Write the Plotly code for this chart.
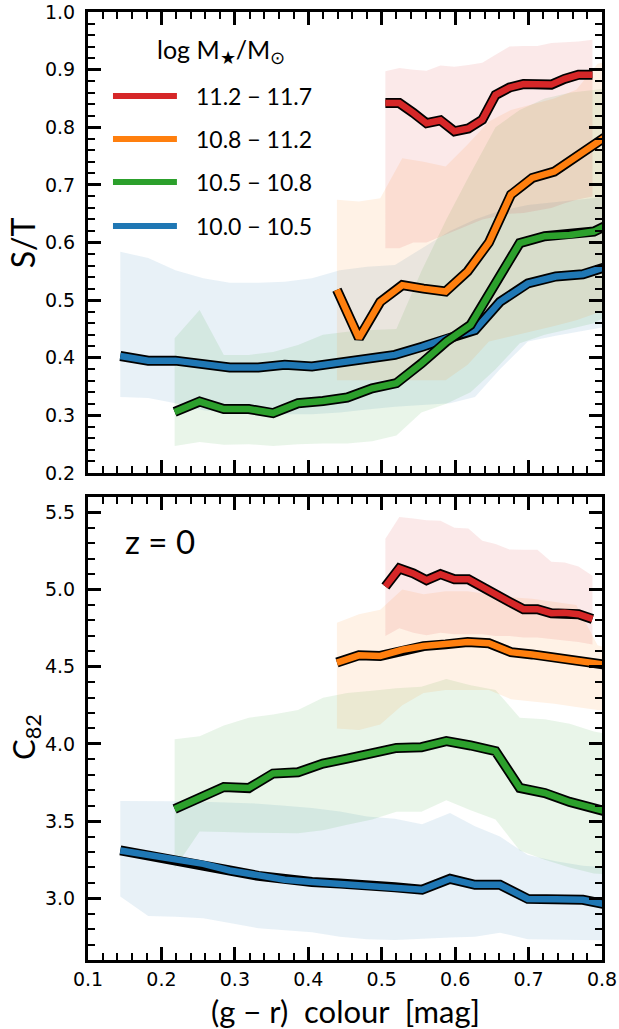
import plotly.graph_objects as go

# ---------------------------------------------------------------------------
# Median relations (lines) and 16th-84th percentile ranges (shaded bands)
# as a function of (g - r) colour, for four stellar-mass bins.
# ---------------------------------------------------------------------------

# colour-bin centres for each mass bin
X_BLUE = [0.144, 0.182, 0.219, 0.257, 0.293, 0.332, 0.368, 0.405, 0.443, 0.480,
          0.518, 0.555, 0.593, 0.627, 0.661, 0.699, 0.737, 0.774, 0.811]
X_GREEN = [0.218, 0.252, 0.285, 0.319, 0.352, 0.386, 0.420, 0.453, 0.487, 0.520,
           0.554, 0.588, 0.621, 0.655, 0.688, 0.722, 0.756, 0.789, 0.823]
X_ORANGE = [0.439, 0.469, 0.498, 0.528, 0.557, 0.587, 0.617, 0.646, 0.676, 0.705,
            0.735, 0.765, 0.794, 0.824]
X_RED = [0.505, 0.524, 0.543, 0.561, 0.580, 0.599, 0.618, 0.637, 0.655, 0.674,
         0.693, 0.712, 0.731, 0.749, 0.768, 0.787]

# S/T: spheroid-to-total ratio
ST_BLUE = [0.403, 0.395, 0.395, 0.388, 0.383, 0.383, 0.388, 0.385, 0.392, 0.399,
           0.405, 0.419, 0.436, 0.448, 0.497, 0.529, 0.541, 0.545, 0.560]
ST_BLUE_LO = [0.332, 0.330, 0.321, 0.309, 0.305, 0.302, 0.302, 0.302, 0.305, 0.310,
              0.315, 0.318, 0.321, 0.332, 0.380, 0.428, 0.438, 0.447, 0.455]
ST_BLUE_HI = [0.584, 0.573, 0.552, 0.538, 0.530, 0.530, 0.532, 0.538, 0.552, 0.558,
              0.561, 0.590, 0.620, 0.640, 0.655, 0.665, 0.670, 0.675, 0.680]

ST_GREEN = [0.306, 0.324, 0.311, 0.311, 0.304, 0.321, 0.325, 0.331, 0.347, 0.356,
            0.390, 0.428, 0.457, 0.530, 0.599, 0.611, 0.613, 0.619, 0.640]
ST_GREEN_LO = [0.247, 0.254, 0.249, 0.250, 0.247, 0.250, 0.251, 0.251, 0.255, 0.265,
               0.305, 0.320, 0.340, 0.380, 0.425, 0.440, 0.450, 0.460, 0.485]
ST_GREEN_HI = [0.434, 0.483, 0.405, 0.405, 0.410, 0.422, 0.440, 0.445, 0.448, 0.450,
               0.550, 0.640, 0.720, 0.800, 0.830, 0.850, 0.860, 0.865, 0.870]

ST_ORANGE = [0.518, 0.434, 0.497, 0.526, 0.520, 0.515, 0.550, 0.600, 0.683, 0.712,
             0.723, 0.749, 0.775, 0.800]
ST_ORANGE_LO = [0.361, 0.361, 0.361, 0.361, 0.361, 0.361, 0.388, 0.428, 0.438, 0.446,
                0.455, 0.465, 0.478, 0.485]
ST_ORANGE_HI = [0.674, 0.671, 0.677, 0.746, 0.740, 0.732, 0.770, 0.810, 0.830, 0.840,
                0.850, 0.865, 0.910, 0.920]

ST_RED = [0.842, 0.842, 0.825, 0.807, 0.812, 0.793, 0.798, 0.813, 0.856, 0.869,
          0.875, 0.874, 0.874, 0.884, 0.891, 0.891]
ST_RED_LO = [0.590, 0.590, 0.600, 0.600, 0.610, 0.620, 0.630, 0.640, 0.645, 0.650,
             0.651, 0.655, 0.660, 0.668, 0.675, 0.680]
ST_RED_HI = [0.897, 0.903, 0.900, 0.898, 0.907, 0.905, 0.908, 0.912, 0.926, 0.940,
             0.941, 0.941, 0.946, 0.947, 0.949, 0.952]

# C82: concentration index
C_BLUE = [3.310, 3.280, 3.245, 3.223, 3.180, 3.145, 3.120, 3.105, 3.095, 3.076,
          3.072, 3.055, 3.126, 3.087, 3.087, 2.996, 2.994, 2.990, 2.955]
C_BLUE_LO = [3.011, 2.885, 2.881, 2.870, 2.840, 2.806, 2.795, 2.780, 2.751, 2.735,
             2.730, 2.735, 2.745, 2.750, 2.777, 2.734, 2.730, 2.730, 2.727]
C_BLUE_HI = [3.630, 3.630, 3.628, 3.625, 3.620, 3.613, 3.600, 3.585, 3.563, 3.530,
             3.515, 3.480, 3.552, 3.466, 3.400, 3.280, 3.240, 3.210, 3.200]

C_GREEN = [3.578, 3.656, 3.721, 3.714, 3.808, 3.816, 3.873, 3.905, 3.942, 3.974,
           3.979, 4.018, 3.990, 3.953, 3.715, 3.682, 3.624, 3.580, 3.540]
C_GREEN_LO = [3.195, 3.433, 3.430, 3.425, 3.422, 3.422, 3.440, 3.477, 3.510, 3.560,
              3.560, 3.635, 3.570, 3.510, 3.310, 3.250, 3.200, 3.160, 3.150]
C_GREEN_HI = [4.030, 4.050, 4.120, 4.170, 4.190, 4.220, 4.300, 4.330, 4.345, 4.360,
              4.370, 4.420, 4.380, 4.350, 4.170, 4.160, 4.130, 4.080, 4.050]

C_ORANGE = [4.527, 4.574, 4.570, 4.610, 4.634, 4.645, 4.660, 4.652, 4.595, 4.580,
            4.560, 4.530, 4.515, 4.500]
C_ORANGE_LO = [4.100, 4.090, 4.126, 4.250, 4.330, 4.350, 4.350, 4.350, 4.290, 4.275,
               4.260, 4.240, 4.220, 4.210]
C_ORANGE_HI = [4.786, 4.840, 4.870, 5.000, 4.970, 4.990, 4.990, 4.970, 4.950, 4.940,
               4.920, 4.900, 4.640, 4.600]

C_RED = [5.020, 5.137, 5.105, 5.061, 5.100, 5.067, 5.067, 5.013, 4.964, 4.920,
         4.873, 4.873, 4.847, 4.850, 4.840, 4.810]
C_RED_LO = [4.700, 4.750, 4.720, 4.705, 4.720, 4.710, 4.710, 4.710, 4.700, 4.700,
            4.690, 4.690, 4.680, 4.670, 4.660, 4.645]
C_RED_HI = [5.330, 5.470, 5.460, 5.450, 5.446, 5.400, 5.396, 5.316, 5.295, 5.260,
            5.258, 5.258, 5.180, 5.175, 5.150, 5.090]

MASS_LABELS = ["11.2 \u2212 11.7", "10.8 \u2212 11.2", "10.5 \u2212 10.8", "10.0 \u2212 10.5"]
COLOURS = ["#d62728", "#ff7f0e", "#2ca02c", "#1f77b4"]

X_TICKS = [0.1, 0.2, 0.3, 0.4, 0.5, 0.6, 0.7, 0.8]
ST_TICKS = [0.2, 0.3, 0.4, 0.5, 0.6, 0.7, 0.8, 0.9, 1.0]
C_TICKS = [3.0, 3.5, 4.0, 4.5, 5.0, 5.5]

# series in drawing order (low mass first, most massive on top)
SERIES = [
    (X_BLUE, ST_BLUE, ST_BLUE_LO, ST_BLUE_HI, C_BLUE, C_BLUE_LO, C_BLUE_HI, COLOURS[3]),
    (X_GREEN, ST_GREEN, ST_GREEN_LO, ST_GREEN_HI, C_GREEN, C_GREEN_LO, C_GREEN_HI, COLOURS[2]),
    (X_ORANGE, ST_ORANGE, ST_ORANGE_LO, ST_ORANGE_HI, C_ORANGE, C_ORANGE_LO, C_ORANGE_HI, COLOURS[1]),
    (X_RED, ST_RED, ST_RED_LO, ST_RED_HI, C_RED, C_RED_LO, C_RED_HI, COLOURS[0]),
]


def rgba(hex_colour, alpha):
    h = hex_colour.lstrip("#")
    r, g, b = int(h[0:2], 16), int(h[2:4], 16), int(h[4:6], 16)
    return f"rgba({r},{g},{b},{alpha})"


fig = go.Figure()

# shaded percentile bands
for xs, st, st_lo, st_hi, c, c_lo, c_hi, col in SERIES:
    for lo, hi, xa, ya in ((st_lo, st_hi, "x", "y"), (c_lo, c_hi, "x2", "y2")):
        fig.add_trace(go.Scatter(
            x=list(xs) + list(xs)[::-1], y=list(hi) + list(lo)[::-1],
            fill="toself", fillcolor=rgba(col, 0.10), mode="lines",
            line=dict(width=0), hoverinfo="skip", showlegend=False,
            xaxis=xa, yaxis=ya))

# median lines with a black outline
for xs, st, st_lo, st_hi, c, c_lo, c_hi, col in SERIES:
    for ys, xa, ya in ((st, "x", "y"), (c, "x2", "y2")):
        fig.add_trace(go.Scatter(x=xs, y=ys, mode="lines",
                                 line=dict(color="black", width=10),
                                 hoverinfo="skip", showlegend=False, xaxis=xa, yaxis=ya))
        fig.add_trace(go.Scatter(x=xs, y=ys, mode="lines",
                                 line=dict(color=col, width=6.5),
                                 hoverinfo="skip", showlegend=False, xaxis=xa, yaxis=ya))

TICK_FONT = dict(family="DejaVu Sans", size=19, color="black")
TEXT_FONT = "Lato"

common_axis = dict(
    showline=True, linewidth=3, linecolor="black", mirror="allticks",
    ticks="inside", ticklen=13, tickwidth=2.5, tickcolor="black",
    showgrid=False, zeroline=False, tickfont=TICK_FONT, automargin=False,
)
minor_x = dict(dtick=0.02, tick0=0.1, ticks="inside", ticklen=7, tickwidth=1.6, tickcolor="black")

fig.update_layout(
    width=619, height=1029,
    margin=dict(l=88, r=17, t=12, b=69),
    plot_bgcolor="white", paper_bgcolor="white",
    showlegend=False,
    xaxis=dict(common_axis, range=[0.1, 0.8], tickmode="array", tickvals=X_TICKS,
               showticklabels=False, anchor="y", matches="x2", minor=minor_x),
    yaxis=dict(common_axis, range=[0.2, 1.0], domain=[0.5137, 1.0], tickmode="array",
               tickvals=ST_TICKS, ticktext=[f"{v:.1f}" for v in ST_TICKS], anchor="x",
               ticklabelstandoff=6,
               minor=dict(dtick=0.02, tick0=0.2, ticks="inside", ticklen=7,
                          tickwidth=1.6, tickcolor="black")),
    xaxis2=dict(common_axis, range=[0.1, 0.8], tickmode="array", tickvals=X_TICKS,
                ticktext=[f"{v:.1f}" for v in X_TICKS], anchor="y2",
                ticklabelstandoff=0, minor=minor_x),
    yaxis2=dict(common_axis, range=[2.6, 5.6], domain=[0.0, 0.4884], tickmode="array",
                tickvals=C_TICKS, ticktext=[f"{v:.1f}" for v in C_TICKS], anchor="x2",
                ticklabelstandoff=6,
                minor=dict(dtick=0.1, tick0=2.6, ticks="inside", ticklen=7,
                           tickwidth=1.6, tickcolor="black")),
)

# legend drawn inside the upper panel
legend_y = [0.8178, 0.7245, 0.6312, 0.5358]
for label, col, ly in zip(MASS_LABELS, COLOURS, legend_y):
    fig.add_shape(type="line", xref="x domain", yref="y domain",
                  x0=0.0486, x1=0.173, y0=ly, y1=ly,
                  line=dict(color=col, width=6))
    fig.add_annotation(xref="x domain", yref="y domain", x=0.206, y=ly,
                       text=label, showarrow=False, xanchor="left", yanchor="middle",
                       font=dict(family=TEXT_FONT, size=23, color="black"))
fig.add_annotation(xref="x domain", yref="y domain", x=0.259, y=0.915,
                   text="log M<sub>\u2605</sub>/M<sub>\u2299</sub>", showarrow=False,
                   xanchor="center", yanchor="middle",
                   font=dict(family=TEXT_FONT, size=25, color="black"))

# redshift label in the lower panel
fig.add_annotation(xref="x2 domain", yref="y2 domain", x=0.068, y=0.905,
                   text="z = 0", showarrow=False, xanchor="left", yanchor="middle",
                   font=dict(family=TEXT_FONT, size=33, color="black"))

# axis titles
fig.add_annotation(xref="paper", yref="paper", x=-0.128, y=0.7563, text="S/T",
                   textangle=-90, showarrow=False, xanchor="center", yanchor="middle",
                   font=dict(family=TEXT_FONT, size=32, color="black"))
fig.add_annotation(xref="paper", yref="paper", x=-0.123, y=0.235, text="C<sub>82</sub>",
                   textangle=-90, showarrow=False, xanchor="center", yanchor="middle",
                   font=dict(family=TEXT_FONT, size=31, color="black"))
fig.add_annotation(xref="paper", yref="paper", x=0.5, y=-0.054,
                   text="(g \u2212 r)  colour  [mag]", showarrow=False,
                   xanchor="center", yanchor="middle",
                   font=dict(family=TEXT_FONT, size=31, color="black"))

fig.write_html("out.html")
